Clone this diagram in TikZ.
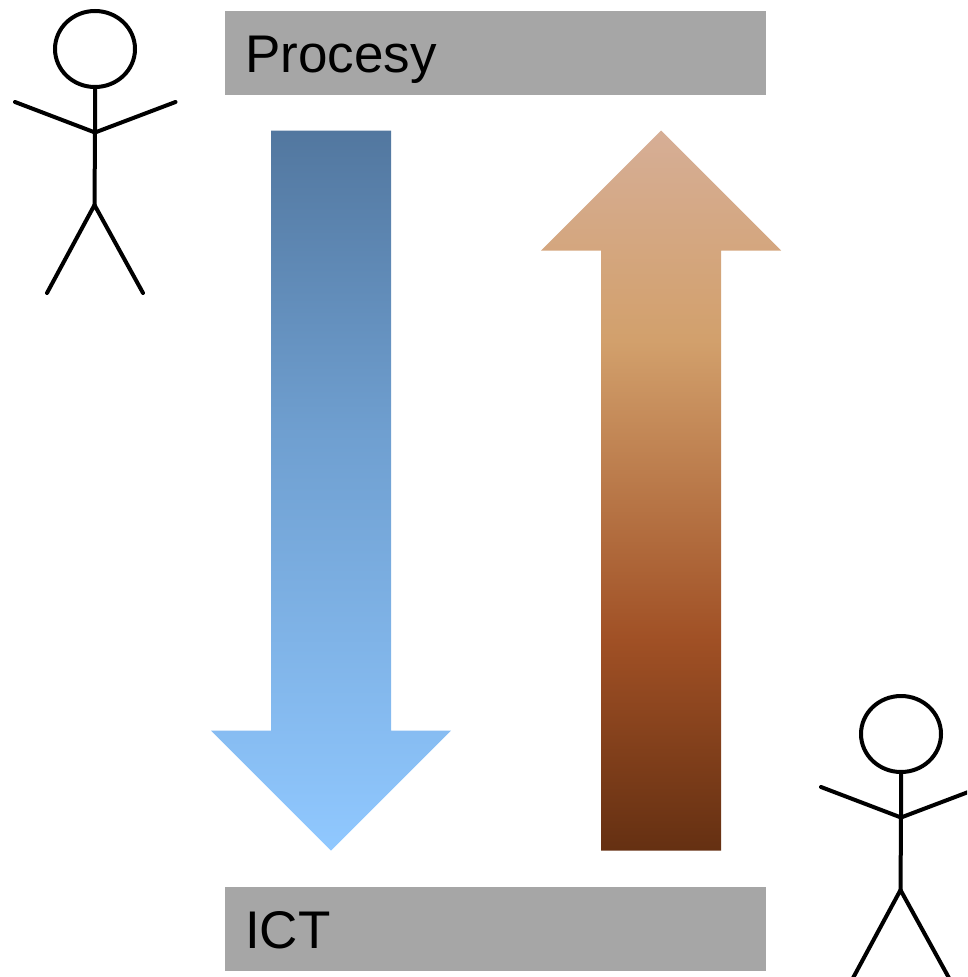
\documentclass[tikz,border=0pt]{standalone}
\usepackage{fontspec}
\setmainfont{Liberation Sans}
\definecolor{barfill}{HTML}{A6A6A6}
\definecolor{bA}{HTML}{52779F}
\definecolor{bM}{HTML}{6F9FD0}
\definecolor{bB}{HTML}{90C8FF}
\definecolor{cA}{HTML}{D6AE96}
\definecolor{cB}{HTML}{D2A06C}
\definecolor{cC}{HTML}{A05025}
\definecolor{cD}{HTML}{653012}
\pgfdeclareverticalshading{blueshade}{100bp}{color(0bp)=(bB); color(25bp)=(bB); color(54bp)=(bM); color(75bp)=(bA); color(100bp)=(bA)}
\pgfdeclareverticalshading{brownshade}{100bp}{color(0bp)=(cD); color(25bp)=(cD); color(39.6bp)=(cC); color(60.4bp)=(cB); color(75bp)=(cA); color(100bp)=(cA)}
\usetikzlibrary{shapes.geometric}
\tikzset{
  bar/.style={fill=barfill,minimum width=541pt,minimum height=84pt,inner sep=0pt,text width=501pt,text height=38.5pt,text depth=0pt,align=left,font=\fontsize{53}{60}\selectfont,anchor=north west},
  limb/.style={line width=4pt,line cap=round,line join=round,draw=black},
  headshape/.style={ellipse,draw=black,line width=4pt,minimum width=80pt,minimum height=76pt,inner sep=0pt},
}
\newcommand{\stickman}[3]{%
  \begin{scope}[shift={(#1,#2)}]
    \node[headshape] (#3head) at (95,49) {};
    \coordinate (#3sh) at (95,132.5);
    \coordinate (#3wa) at (94.5,205);
    \coordinate (#3la) at (15,102);
    \coordinate (#3ra) at (175.5,102);
    \coordinate (#3ll) at (47,293);
    \coordinate (#3rl) at (143,293);
    \draw[limb] (#3head.south) -- (#3sh) -- (#3wa);
    \draw[limb] (#3la) -- (#3sh) -- (#3ra);
    \draw[limb] (#3ll) -- (#3wa) -- (#3rl);
  \end{scope}}
\begin{document}
\begin{tikzpicture}[x=1pt,y=-1pt]
  \useasboundingbox (0,0) rectangle (967,977);
  \clip (0,0) rectangle (967,977);
  \node[bar] (procesy) at (225,11) {Procesy};
  \node[bar] (ict) at (225,887) {ICT};
  \shade[shading=blueshade] (271,130.5) -- (391,130.5) -- (391,730.5) -- (451,730.5) -- (331,850.5) -- (211,730.5) -- (271,730.5) -- cycle;
  \shade[shading=brownshade] (601,850.5) -- (721,850.5) -- (721,250.5) -- (781,250.5) -- (661,130.5) -- (541,250.5) -- (601,250.5) -- cycle;
  \stickman{0}{0}{a}
  \stickman{806}{685}{b}
\end{tikzpicture}
\end{document}
